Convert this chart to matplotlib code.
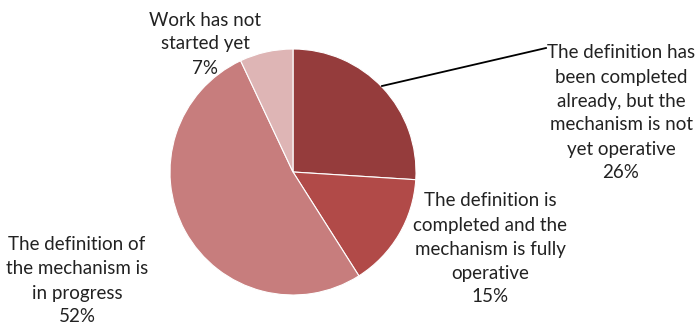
import matplotlib.pyplot as plt

plt.rcParams['font.family'] = ['Lato', 'DejaVu Sans']

labels = [
    'The definition has\nbeen completed\nalready, but the\nmechanism is not\nyet operative',
    'The definition is\ncompleted and the\nmechanism is fully\noperative',
    'The definition of\nthe mechanism is\nin progress',
    'Work has not\nstarted yet',
]
shares = [26, 15, 52, 7]
colors = ['#953C3C', '#B14A48', '#C77D7D', '#DEB5B5']

W, H = 698, 331
fig = plt.figure(figsize=(W / 100, H / 100), dpi=100)
ax = fig.add_axes([0, 0, 1, 1])

cx, cy, r = 293, H - 172, 123
ax.pie(shares, colors=colors, startangle=90, counterclock=False,
       center=(cx, cy), radius=r, frame=True,
       wedgeprops=dict(edgecolor='white', linewidth=0.8))
ax.set_xlim(0, W)
ax.set_ylim(0, H)
ax.axis('off')

# label anchors in pixel space (x, y from top)
spots = [(621, 113), (490, 249), (77, 281), (205, 44)]
for text, share, (x, y) in zip(labels, shares, spots):
    ax.text(x, H - y, f'{text}\n{share}%', ha='center', va='center',
            fontsize=13.5, linespacing=1.5, color='#222222')

# leader line for the first slice
ax.plot([382, 546], [H - 86, H - 48], color='black', lw=1.3)

fig.savefig('out.png', dpi=100)
